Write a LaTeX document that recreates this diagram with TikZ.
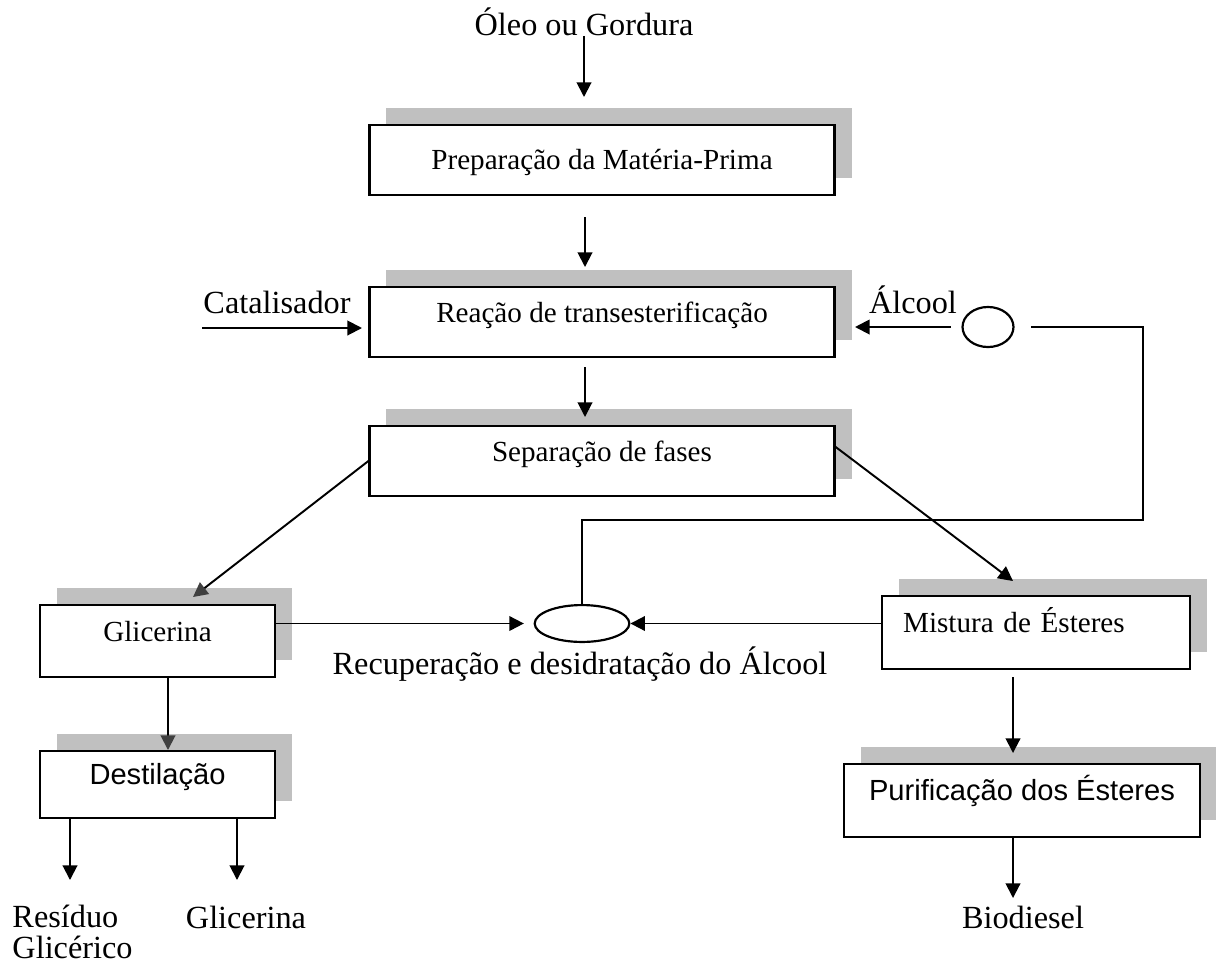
\documentclass[tikz,border=0pt]{standalone}
\usepackage{fontspec}
\setmainfont{Liberation Serif}
\setsansfont{Liberation Sans}
\usepackage{xcolor}
\usepackage{tikz}
\usetikzlibrary{calc,arrows.meta,shapes.geometric,shadows}
\definecolor{ink}{HTML}{000000}
\definecolor{shadowgray}{HTML}{C0C0C0}
\definecolor{headgray}{HTML}{404040}
\newcommand{\bodysize}{\fontsize{12pt}{12.4pt}\selectfont}
\newcommand{\labelsize}{\fontsize{13.3pt}{12.4pt}\selectfont}
\tikzset{
  procBox/.style={draw=ink, fill=white, line width=0.9pt, inner sep=0pt,
    text height=8pt, text depth=8pt, font=\bodysize,
    general shadow={fill=shadowgray, shadow xshift=7pt, shadow yshift=7pt}},
  sansBox/.style={procBox, font=\bodysize\sffamily},
  bigBox/.style={procBox, minimum width=191.6pt, minimum height=29pt},
  plainLbl/.style={inner sep=0pt, font=\labelsize},
  flowArr/.style={draw=ink, line width=0.8pt, -{Triangle[length=6pt, width=6pt]}},
  grayArr/.style={draw=ink, line width=0.8pt,
    -{Triangle[length=6pt, width=6pt, color=headgray, fill=headgray]}},
  loopLine/.style={draw=ink, line width=0.8pt},
  vessel/.style={ellipse, draw=ink, line width=0.9pt, inner sep=0pt},
}
\newcommand{\FlowEnds}{%
  \coordinate (prepIn)  at (584,97);
  \coordinate (reacOut) at (585,217);
  \coordinate (reacIn)  at (585,267);
  \coordinate (sepOut)  at (585,367);
  \coordinate (sepIn)   at (585,417);
  \coordinate (catS)    at (202,328);
  \coordinate (catE)    at (362,328);
  \coordinate (alcE)    at (855,327);
  \coordinate (loopR)   at (1143,520);
  \coordinate (glicIn)  at (193,597);
  \coordinate (mistIn)  at (1013,581);
  \coordinate (mistOut) at (1013,677);
  \coordinate (purifIn) at (1013,753);
  \coordinate (bioIn)   at (1013,898);
  \coordinate (destIn)  at (168,750);
  \coordinate (residIn) at (70,880);
  \coordinate (glicOut) at (237,880);
}

\begin{document}
\begin{tikzpicture}[x=0.412pt, y=-0.412pt]
  \useasboundingbox (0,0) rectangle (1216,970);
  \FlowEnds

  % main line
  \node[plainLbl, anchor=base] (oleo) at (584,35) {Óleo ou Gordura};
  \node[bigBox, text height=10pt, text depth=2pt] (prep) at (602,160) {Preparação da Matéria-Prima};
  \node[bigBox] (reac) at (602,322) {Reação de transesterificação};
  \node[bigBox] (sep)  at (602,461) {Separação de fases};

  \node[plainLbl, anchor=base] (cat)    at (277,313) {Catalisador};
  \node[plainLbl, anchor=base] (alcool) at (913,313) {Álcool};
  \node[vessel, minimum width=21pt, minimum height=16.5pt] (alc) at (988,327) {};

  % glycerol branch
  \node[procBox, minimum width=96.8pt, minimum height=29.7pt] (glic) at (157.5,641) {Glicerina};
  \node[sansBox, minimum width=96.8pt, minimum height=27.6pt] (dest) at (157.5,784.5) {Destilação};
  \node[plainLbl, align=left, anchor=base west] (resid) at (12,958) {Resíduo\\Glicérico};
  \node[plainLbl, anchor=base] (glicPura) at (246,928) {Glicerina};

  % alcohol recovery
  \node[vessel, minimum width=39pt, minimum height=15.2pt] (recup) at (582,623.5) {};
  \node[plainLbl, anchor=base] (recupLbl) at (580,674) {Recuperação e desidratação do Álcool};

  % ester branch
  \node[procBox, minimum height=30pt, align=left, text width=109.5pt, inner xsep=8.7pt] (mist) at (1036,632.5) {Mistura de Ésteres};
  \node[sansBox, minimum width=146.7pt, minimum height=30pt] (purif) at (1022,800.5) {Purificação dos Ésteres};
  \node[plainLbl, anchor=base] (bio) at (1023,928) {Biodiesel};

  \draw[flowArr] (oleo.south -| prepIn) -- (prepIn);
  \draw[flowArr] (reacOut) -- (reacIn);
  \draw[flowArr] (sepOut) -- (sepIn);
  \draw[flowArr] (catS) -- (catE);
  \draw[flowArr, shorten <=4.5pt] (alc.west) -- (alcE);
  \draw[loopLine, shorten >=6.6pt] (recup.north) |- (loopR) |- (alc.east);

  \draw[grayArr] (sep.west) -- (glicIn);
  \draw[flowArr] ([yshift=5.8pt]sep.east) -- (mistIn);
  \draw[flowArr, shorten >=4pt] (glic.east |- recup) -- (recup.west);
  \draw[flowArr] (mist.west |- recup) -- (recup.east);

  \draw[grayArr] (glic.south -| destIn) -- (destIn);
  \draw[flowArr] (dest.south -| residIn) -- (residIn);
  \draw[flowArr] (dest.south -| glicOut) -- (glicOut);

  \draw[flowArr] (mistOut) -- (purifIn);
  \draw[flowArr] (purif.south -| bioIn) -- (bioIn);
\end{tikzpicture}
\end{document}
